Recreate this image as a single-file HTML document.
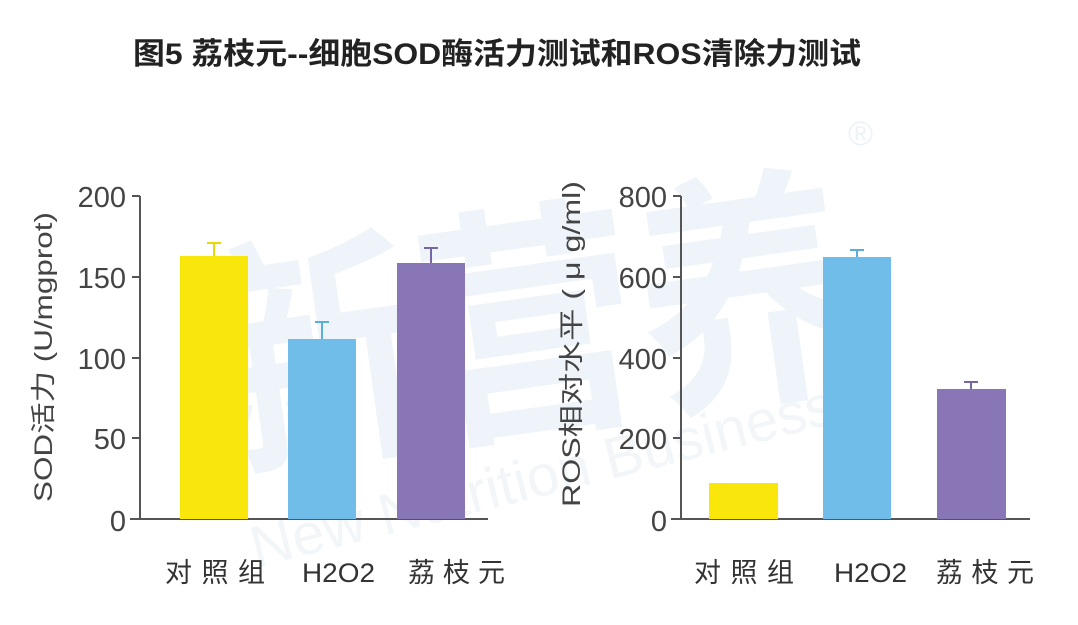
<!DOCTYPE html>
<html><head><meta charset="utf-8"><style>
html,body{margin:0;padding:0;background:#fff;}
svg{display:block;}
text{font-family:"Liberation Sans","Noto Sans CJK SC",sans-serif;}
</style></head><body>
<svg width="1078" height="625" viewBox="0 0 1078 625" xmlns="http://www.w3.org/2000/svg">
<rect width="1078" height="625" fill="#fff"/>
<!-- watermark -->
<g fill="#eef4f9">
<text x="195" y="420" font-size="250" font-weight="bold" textLength="660" lengthAdjust="spacingAndGlyphs" transform="rotate(-8 500 300)">新营养</text>
</g>
<text x="235" y="505" font-size="58" fill="#f2f6f9" transform="rotate(-14 500 450)">New Nutrition Business</text>
<text x="848" y="145" font-size="34" fill="#edf2f6">®</text>
<!-- title -->
<text x="133" y="64" font-size="30" font-weight="bold" fill="#222" textLength="728" lengthAdjust="spacingAndGlyphs">图5 荔枝元--细胞SOD酶活力测试和ROS清除力测试</text>

<!-- left chart -->
<g stroke="#555" stroke-width="2" fill="none">
<line x1="140" y1="196" x2="140" y2="519"/>
<line x1="130" y1="519" x2="488" y2="519"/>
<line x1="132" y1="196" x2="140" y2="196"/>
<line x1="132" y1="277" x2="140" y2="277"/>
<line x1="132" y1="358" x2="140" y2="358"/>
<line x1="132" y1="438" x2="140" y2="438"/>
</g>
<g font-size="29" fill="#444" text-anchor="end">
<text x="126" y="207">200</text><text x="126" y="288">150</text><text x="126" y="369">100</text><text x="126" y="449">50</text><text x="126" y="531">0</text>
</g>
<rect x="180" y="256" width="68" height="263" fill="#f9e70b"/>
<rect x="288" y="339" width="68" height="180" fill="#6fbde8"/>
<rect x="397" y="263" width="68" height="256" fill="#8976b6"/>
<g stroke-width="2">
<path d="M214 256V243M207 243H221" stroke="#e8d70a"/>
<path d="M322 339V322M315 322H329" stroke="#5aaedb"/>
<path d="M431 263V248M424 248H438" stroke="#7766a4"/>
</g>
<text transform="translate(52 357) rotate(-90)" font-size="25" fill="#444" text-anchor="middle" textLength="290" lengthAdjust="spacingAndGlyphs">SOD活力 (U/mgprot)</text>
<g font-size="27" fill="#333">
<text x="165" y="582" textLength="100">对照组</text><text x="302" y="582" textLength="73" lengthAdjust="spacingAndGlyphs">H2O2</text><text x="408" y="582" textLength="97">荔枝元</text>
</g>

<!-- right chart -->
<g stroke="#555" stroke-width="2" fill="none">
<line x1="681" y1="196" x2="681" y2="519"/>
<line x1="671" y1="519" x2="1030" y2="519"/>
<line x1="673" y1="196" x2="681" y2="196"/>
<line x1="673" y1="277" x2="681" y2="277"/>
<line x1="673" y1="358" x2="681" y2="358"/>
<line x1="673" y1="438" x2="681" y2="438"/>
</g>
<g font-size="29" fill="#444" text-anchor="end">
<text x="667" y="207">800</text><text x="667" y="288">600</text><text x="667" y="369">400</text><text x="667" y="449">200</text><text x="667" y="531">0</text>
</g>
<rect x="709" y="483" width="69" height="36" fill="#f9e70b"/>
<rect x="823" y="257" width="68" height="262" fill="#6fbde8"/>
<rect x="937" y="389" width="69" height="130" fill="#8976b6"/>
<g stroke-width="2">
<path d="M857 257V250M850 250H864" stroke="#5aaedb"/>
<path d="M971 389V382M964 382H978" stroke="#7766a4"/>
</g>
<text transform="translate(580 344) rotate(-90)" font-size="25" fill="#444" text-anchor="middle" textLength="326" lengthAdjust="spacingAndGlyphs">ROS相对水平 ( μ g/ml)</text>
<g font-size="27" fill="#333">
<text x="694" y="582" textLength="100">对照组</text><text x="834" y="582" textLength="73" lengthAdjust="spacingAndGlyphs">H2O2</text><text x="936" y="582" textLength="98">荔枝元</text>
</g>
</svg>
</body></html>
